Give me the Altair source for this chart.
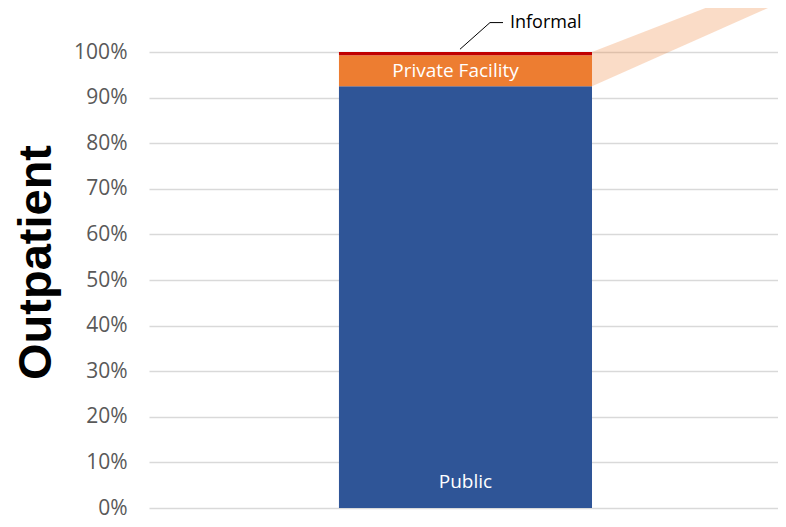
import altair as alt
import pandas as pd

# ---- data ----
segments = ["Public", "Private Facility", "Informal"]
shares = [92.5, 6.8, 0.7]          # percent of outpatient visits
seg_colors = ["#2F5597", "#ED7D31", "#C00000"]
tick_values = [0, 10, 20, 30, 40, 50, 60, 70, 80, 90, 100]

# ---- layout constants (plot-area fractions / percent positions) ----
W, H = 629, 456
BAR_LEFT, BAR_RIGHT = 0.302, 0.7043
BAR_MID = (BAR_LEFT + BAR_RIGHT) / 2
PRIVATE_LABEL_SHIFT = -0.0159
PUBLIC_LABEL_OFFSET = 5.7
FONT = "Open Sans"

df = pd.DataFrame({"segment": segments, "share": shares, "order": list(range(len(segments)))})

xs = alt.Scale(domain=[0, 1], nice=False, zero=False, padding=0)
ys = alt.Scale(domain=[0, 100], nice=False, zero=True, padding=0)

# connector band (decorative zoom wedge going off to the upper right)
conn = pd.DataFrame({
    "x": [BAR_RIGHT, 1.0127],
    "lo": [shares[0], 111.4],
    "hi": [100.0, 116.5],
})
band = alt.Chart(conn).mark_area(color="#ED7D31", opacity=0.27).encode(
    x=alt.X("x:Q", scale=xs, axis=None),
    y=alt.Y("lo:Q", scale=ys),
    y2="hi:Q",
)

yaxis = alt.Axis(
    values=tick_values,
    labelExpr="datum.value + '%'",
    ticks=False,
    domain=False,
    grid=True,
    gridColor="#D9D9D9",
    gridWidth=1.3,
    labelFont=FONT,
    labelFontSize=21,
    labelColor="#595959",
    labelPadding=22,
    title="Outpatient",
    titleFont="Liberation Sans",
    titleFontSize=47,
    titleFontWeight="bold",
    titleColor="#000000",
    titleAngle=270,
    titleAlign="center",
    titleBaseline="alphabetic",
    titleX=-99,
    titleY=210,
)

stacked = alt.Chart(df).transform_stack(
    stack="share", groupby=[], as_=["y0", "y1"], sort=[alt.SortField("order")]
)

bars = stacked.mark_bar().encode(
    x=alt.X(datum=BAR_LEFT, type="quantitative", scale=xs, axis=None),
    x2=alt.X2(datum=BAR_RIGHT),
    y=alt.Y("y0:Q", scale=ys, axis=yaxis),
    y2="y1:Q",
    color=alt.Color("segment:N", scale=alt.Scale(domain=segments, range=seg_colors), legend=None),
)

labels = (
    stacked.transform_calculate(
        ly=f"datum.segment == 'Public' ? datum.y0 + {PUBLIC_LABEL_OFFSET} : (datum.y0 + datum.y1) / 2",
        lx=f"datum.segment == 'Public' ? {BAR_MID} : {BAR_MID + PRIVATE_LABEL_SHIFT}",
    )
    .transform_filter("datum.segment != 'Informal'")
    .mark_text(color="white", font=FONT, fontSize=19, baseline="middle", align="center")
    .encode(
        x=alt.X("lx:Q", scale=xs),
        y=alt.Y("ly:Q", scale=ys),
        text="segment:N",
    )
)

# leader line and label for the thin "Informal" slice
LEAD_Y0, LEAD_Y1 = 100.6, 106.45
leader1 = alt.Chart(df).transform_filter("datum.segment == 'Informal'").mark_rule(color="#000000", strokeWidth=1).encode(
    x=alt.X(datum=0.4944, type="quantitative", scale=xs),
    x2=alt.X2(datum=0.5421),
    y=alt.Y(datum=LEAD_Y0, type="quantitative", scale=ys),
    y2=alt.Y2(datum=LEAD_Y1),
)
leader2 = alt.Chart(df).transform_filter("datum.segment == 'Informal'").mark_rule(color="#000000", strokeWidth=1).encode(
    x=alt.X(datum=0.5421, type="quantitative", scale=xs),
    x2=alt.X2(datum=0.5628),
    y=alt.Y(datum=LEAD_Y1, type="quantitative", scale=ys),
)
informal_label = alt.Chart(df).transform_filter("datum.segment == 'Informal'").mark_text(
    color="#000000", font=FONT, fontSize=18, align="left", baseline="middle"
).encode(
    x=alt.X(datum=0.5739, type="quantitative", scale=xs),
    y=alt.Y(datum=LEAD_Y1, type="quantitative", scale=ys),
    text="segment:N",
)

chart = (
    alt.layer(band, bars, labels, leader1, leader2, informal_label)
    .properties(
        width=W,
        height=H,
        autosize=alt.AutoSizeParams(type="none"),
        padding={"left": 141, "top": 44, "right": 0, "bottom": 11},
        background="white",
    )
    .configure_view(stroke=None)
)

chart.save("out.html", embed_options={"renderer": "svg", "actions": False})
